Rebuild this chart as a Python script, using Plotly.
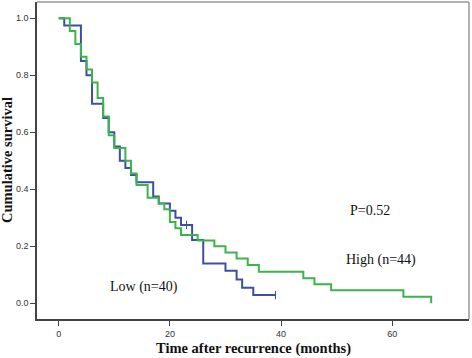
import plotly.graph_objects as go

# Kaplan-Meier step data
low_t = [0, 1, 4, 5, 6, 8, 9, 10, 11, 12, 13, 14, 17, 18, 20, 21, 22, 24, 26, 30, 32, 33, 35, 39]
low_s = [1.0, 0.975, 0.85, 0.80, 0.70, 0.65, 0.60, 0.55, 0.50, 0.475, 0.45, 0.425, 0.375, 0.35,
         0.325, 0.30, 0.275, 0.222, 0.14, 0.114, 0.084, 0.055, 0.029, 0.029]
low_cens_t = [23, 39]
low_cens_s = [0.275, 0.029]

high_t = [0, 2, 3, 4, 5, 6, 7, 8, 9, 10, 12, 13, 14, 16, 18, 19, 20, 21, 22, 25, 28, 30, 32, 34,
          36, 44, 46, 49, 62, 67]
high_s = [1.0, 0.955, 0.91, 0.865, 0.82, 0.775, 0.72, 0.655, 0.59, 0.545, 0.50, 0.455, 0.415,
          0.37, 0.35, 0.33, 0.285, 0.263, 0.24, 0.22, 0.20, 0.178, 0.157, 0.134, 0.111, 0.088,
          0.067, 0.046, 0.023, 0.0]

x_ticks = [0, 20, 40, 60]
y_ticks = [0.0, 0.2, 0.4, 0.6, 0.8, 1.0]
y_tick_labels = ["0.0", "0.2", "0.4", "0.6", "0.8", "1.0"]

BLUE = "#3b4fa3"
GREEN = "#3cb44b"
SERIF = "Liberation Serif, Times New Roman, serif"
SANS = "Liberation Sans, Arial, sans-serif"

fig = go.Figure()
fig.add_trace(go.Scatter(x=low_t, y=low_s, mode="lines", line=dict(color=BLUE, width=2, shape="hv"),
                         showlegend=False, hoverinfo="skip"))
fig.add_trace(go.Scatter(x=high_t, y=high_s, mode="lines", line=dict(color=GREEN, width=2, shape="hv"),
                         showlegend=False, hoverinfo="skip"))
fig.add_trace(go.Scatter(x=low_cens_t, y=low_cens_s, mode="markers",
                         marker=dict(symbol="line-ns", size=6, line=dict(color=BLUE, width=1)),
                         showlegend=False, hoverinfo="skip"))

fig.add_annotation(x=56.0, y=0.327, text="P=0.52", showarrow=False,
                   font=dict(family=SERIF, size=14, color="#111"))
fig.add_annotation(x=58.0, y=0.152, text="High (n=44)", showarrow=False,
                   font=dict(family=SERIF, size=14, color="#111"))
fig.add_annotation(x=15.35, y=0.057, text="Low (n=40)", showarrow=False,
                   font=dict(family=SERIF, size=14, color="#111"))

fig.add_annotation(xref="paper", yref="paper", x=-0.0694, y=0.5016, text="<b>Cumulative survival</b>",
                   textangle=-90, showarrow=False, xanchor="center", yanchor="middle",
                   font=dict(family=SERIF, size=14.5, color="#111"))
fig.add_annotation(xref="paper", yref="paper", x=0.5, y=-0.0915, text="<b>Time after recurrence (months)</b>",
                   showarrow=False, xanchor="center", yanchor="middle",
                   font=dict(family=SERIF, size=14.5, color="#111"))

# lighter top/right frame
fig.add_shape(type="line", xref="paper", yref="paper", x0=0, x1=1, y0=1, y1=1,
              line=dict(color="#999", width=1.5))
fig.add_shape(type="line", xref="paper", yref="paper", x0=1, x1=1, y0=0, y1=1,
              line=dict(color="#999", width=1.5))

fig.update_xaxes(range=[-3.9, 73.8], tickvals=x_ticks, ticks="outside", ticklen=5, tickcolor="#444",
                 showline=True, linecolor="#444", linewidth=1.5, showgrid=False, zeroline=False,
                 tickfont=dict(family=SANS, size=9, color="#333"))
fig.update_yaxes(range=[-0.055, 1.057], tickvals=y_ticks, ticktext=y_tick_labels, ticks="outside",
                 ticklen=5, tickcolor="#444", showline=True, linecolor="#444", linewidth=1.5,
                 showgrid=False, zeroline=False, tickfont=dict(family=SANS, size=9, color="#333"))

fig.update_layout(width=472, height=358, margin=dict(l=37, r=3, t=2, b=39),
                  plot_bgcolor="white", paper_bgcolor="white")

fig.write_html("out.html", config={"displayModeBar": False},
               post_script="document.body.style.margin='0';")
